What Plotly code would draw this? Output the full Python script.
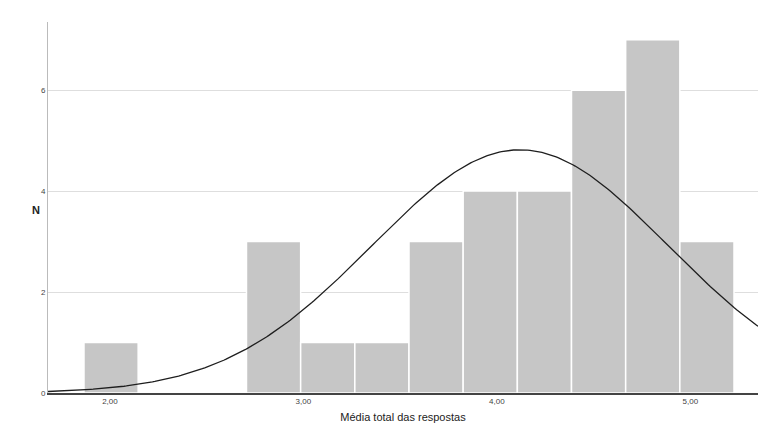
import numpy as np
import plotly.graph_objects as go

# Histogram data
bin_start = 1.866
bin_width = 0.28
counts = [1, 0, 0, 3, 1, 1, 3, 4, 4, 6, 7, 3]
n_total = 33
mean_val = 4.12
sd_val = 0.765
x_tick_vals = [2, 3, 4, 5]
x_tick_text = ["2,00", "3,00", "4,00", "5,00"]
y_tick_vals = [0, 2, 4, 6]

centers = [bin_start + bin_width * (i + 0.5) for i in range(len(counts))]

xs = np.linspace(1.68, 5.35, 300)
ys = n_total * bin_width / (sd_val * np.sqrt(2 * np.pi)) * np.exp(-((xs - mean_val) ** 2) / (2 * sd_val ** 2))

W, H = 758, 438
L, T, B = 48, 22, 45
pw, ph = W - L, H - T - B

fig = go.Figure()
fig.add_trace(go.Bar(
    x=centers, y=counts, width=bin_width,
    marker=dict(color="#c6c6c6", line=dict(color="white", width=1.5)),
    hoverinfo="skip",
))
fig.add_trace(go.Scatter(
    x=xs, y=ys, mode="lines",
    line=dict(color="#1e1e1e", width=1.3),
    hoverinfo="skip",
))

fig.update_layout(
    width=W, height=H,
    margin=dict(l=L, r=0, t=T, b=B),
    plot_bgcolor="white", paper_bgcolor="white",
    showlegend=False,
    font=dict(family="Liberation Sans, Arial, sans-serif", color="#444"),
    xaxis=dict(
        range=[1.68, 5.35], tickvals=x_tick_vals, ticktext=x_tick_text,
        tickfont=dict(size=8), showgrid=False, zeroline=False,
        showline=True, linecolor="#444", linewidth=1.5,
        ticks="", title=dict(text="Média total das respostas", font=dict(size=11, color="#222"), standoff=8),
    ),
    yaxis=dict(
        range=[0, 7.35], tickvals=y_tick_vals, tickfont=dict(size=8),
        showgrid=True, gridcolor="#dedede", gridwidth=1, zeroline=False,
        showline=True, linecolor="#bbbbbb", linewidth=1, ticks="",
    ),
    annotations=[dict(
        text="<b>N</b>", xref="paper", yref="paper",
        x=(30 - L) / pw, y=(393 - 210) / ph,
        showarrow=False, font=dict(size=11, color="#222"),
    )],
)

fig.write_html(
    "out.html",
    config={"displayModeBar": False},
    post_script="document.body.style.margin='0';document.body.style.overflow='hidden';",
)
